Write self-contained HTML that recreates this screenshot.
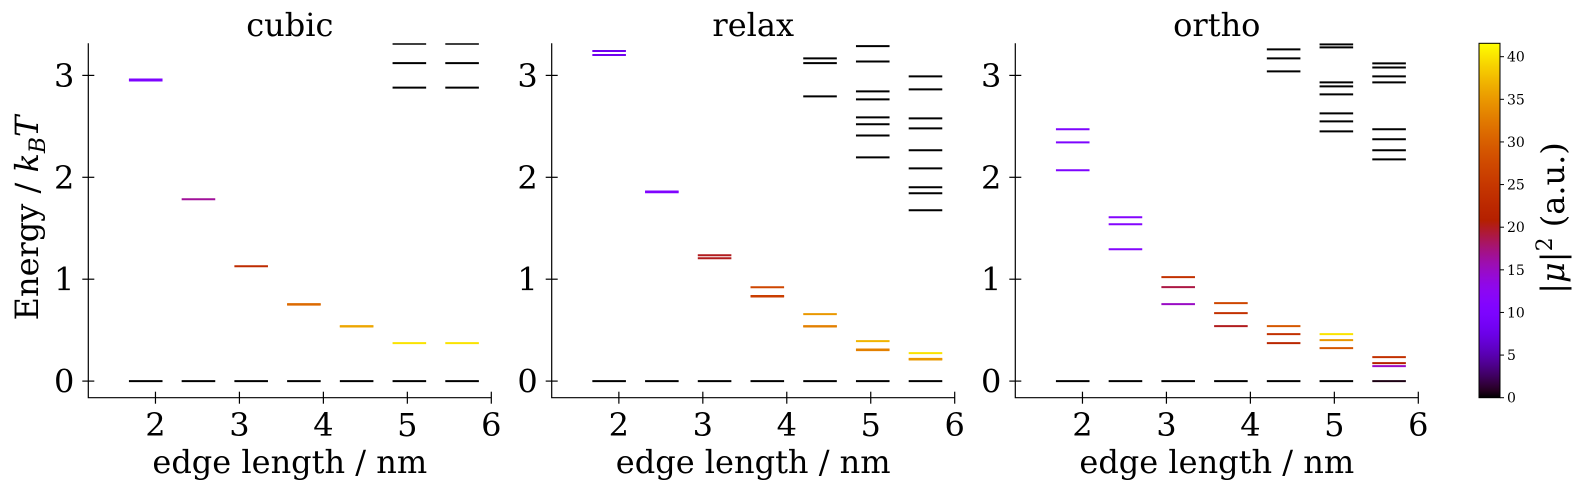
<!DOCTYPE html>
<html><head><meta charset="utf-8"><style>
html,body{margin:0;padding:0;background:#fff;}
svg{display:block;font-family:"DejaVu Serif","Liberation Serif",serif;}
</style></head><body>
<svg id="fig" width="1584" height="490" viewBox="0 0 1584 490" xmlns="http://www.w3.org/2000/svg">
<defs><linearGradient id="cbgrad" x1="0" y1="1" x2="0" y2="0"></linearGradient></defs>
<text x="0" y="0" transform="translate(38,218) rotate(-90)" text-anchor="middle" font-size="32">Energy / <tspan font-style="italic">k</tspan><tspan font-style="italic" font-size="22" dy="7">B</tspan><tspan font-style="italic" dy="-7">T</tspan></text>
<text x="0" y="0" transform="translate(1564,218) rotate(-90)" text-anchor="middle" font-size="32">|<tspan font-style="italic">μ</tspan>|<tspan font-size="22" dy="-12">2</tspan><tspan dy="12"> (a.u.)</tspan></text>
</svg>
<script>
const sizes = [1.884, 2.512, 3.14, 3.768, 4.396, 5.024, 5.652];
const xTicks = [2, 3, 4, 5, 6];
const yTicks = [0, 1, 2, 3];
const cbTicks = [0, 5, 10, 15, 20, 25, 30, 35, 40];
const panelTitles = ["cubic", "relax", "ortho"];
const cubicEnergies = [[0,2.95,2.96],[0,1.784],[0,1.127],[0,0.75,0.755],[0,0.536,0.54],[0,0.372,2.88,3.12,3.31],[0,0.372,2.88,3.12,3.31]];
const cubicIntens = [[0,10,10],[0,16.5],[0,23],[0,31,31],[0,36,36],[0,40,0,0,0],[0,40,0,0,0]];
const relaxEnergies = [[0,3.24,3.20],[0,1.853,1.86],[0,1.235,1.206],[0,0.921,0.83,0.835],[0,0.657,0.536,0.54,3.167,3.12,2.794],[0,0.392,0.304,0.31,3.287,3.137,2.843,2.765,2.588,2.52,2.41,2.196],[0,0.275,0.212,0.218,2.99,2.863,2.578,2.48,2.265,2.088,1.902,1.843,1.676]];
const relaxIntens = [[0,8,8],[0,10.5,10.5],[0,20,20],[0,27,26,26],[0,35,33,33,0,0,0],[0,37,33,33,0,0,0,0,0,0,0,0],[0,40,35,35,0,0,0,0,0,0,0,0,0]];
const orthoEnergies = [[0,2.471,2.343,2.069],[0,1.608,1.539,1.294],[0,1.02,0.922,0.755],[0,0.765,0.667,0.539],[0,0.539,0.461,0.372,3.255,3.167,3.04],[0,0.461,0.402,0.324,3.304,3.275,2.931,2.892,2.814,2.627,2.549,2.451],[0,0.235,0.176,0.147,3.118,3.078,2.99,2.931,2.471,2.373,2.265,2.176]];
const orthoIntens = [[0,10,10,10],[0,11,11,11],[0,24,19,15],[0,27,24,20],[0,29,24,22,0,0,0],[0,40,35,29,0,0,0,0,0,0,0,0],[0.5,24,21,15,0,0,0,0,0,0,0,0]];

const NS = "http://www.w3.org/2000/svg";
const svg = document.getElementById("fig");
const VMAX = 41.57;
function cmap(v){
  let t = Math.max(0, Math.min(1, v / VMAX));
  const r = Math.sqrt(t), g = t*t*t, b = Math.max(0, Math.sin(2*Math.PI*t));
  const h = c => Math.round(Math.min(1,c)*255);
  return `rgb(${h(r)},${h(g)},${h(b)})`;
}
function mk(tag, attrs, parent){
  const e = document.createElementNS(NS, tag);
  for (const k in attrs) e.setAttribute(k, attrs[k]);
  (parent || svg).appendChild(e);
  return e;
}
const XMIN = 1.2, XMAX = 6.0, YMIN = -0.163, YMAX = 3.315;
const TOP = 43.3, BOT = 397.7, W = 403;
const lefts = [88.3, 551.7, 1015.3];
const panelsE = [cubicEnergies, relaxEnergies, orthoEnergies];
const panelsI = [cubicIntens, relaxIntens, orthoIntens];

panelsE.forEach((E, p) => {
  const L = lefts[p];
  const xs = v => L + (v - XMIN) / (XMAX - XMIN) * W;
  const ys = v => BOT - (v - YMIN) / (YMAX - YMIN) * (BOT - TOP);
  const g = mk("g", {});
  
  
  const clipId = "clip" + p;
  const cp = mk("clipPath", {id: clipId}, g);
  mk("rect", {x: L, y: TOP, width: W, height: BOT - TOP}, cp);
  const lines = mk("g", {"clip-path": `url(#${clipId})`}, g);
  E.forEach((lev, i) => {
    lev.forEach((e, j) => {
      const l = mk("line", {x1: xs(sizes[i] - 0.2), x2: xs(sizes[i] + 0.2), y1: ys(e), y2: ys(e), stroke: cmap(panelsI[p][i][j]), "stroke-width": 2}, lines);
      
      
    });
  });
  const ax = mk("path", {d: `M${L},${TOP} V${BOT} H${L+W}`, stroke: "#000", "stroke-width": 1.2, fill: "none"}, g);
  
  
  xTicks.forEach(t => {
    const x = xs(t);
    mk("line", {x1: x, x2: x, y1: BOT - 6, y2: BOT + 6, stroke: "#000", "stroke-width": 1.2}, g);
    const tx = mk("text", {x: x, y: 436, "text-anchor": "middle", "font-size": 32}, g);
    tx.textContent = t;
    
    
  });
  yTicks.forEach(t => {
    const y = ys(t);
    mk("line", {x1: L - 6, x2: L + 6, y1: y, y2: y, stroke: "#000", "stroke-width": 1.2}, g);
    const tx = mk("text", {x: L - 14, y: y + 11.5, "text-anchor": "end", "font-size": 32}, g);
    tx.textContent = t;
    
    
  });
  const xl = mk("text", {x: L + W/2, y: 473, "text-anchor": "middle", "font-size": 32}, g);
  xl.textContent = "edge length / nm";
  
  
  const tt = mk("text", {x: L + W/2, y: 36, "text-anchor": "middle", "font-size": 32}, g);
  tt.textContent = panelTitles[p];
  
  
});

// colorbar
const grad = document.getElementById("cbgrad");
for (let k = 0; k <= 50; k++) {
  mk("stop", {offset: (k/50), "stop-color": cmap(k/50*VMAX)}, grad);
}
const CBX = 1479, CBW = 21;
const cb = mk("rect", {x: CBX, y: TOP, width: CBW, height: BOT - TOP, fill: "url(#cbgrad)", stroke: "#000", "stroke-width": 1});


const cy = v => BOT - v / VMAX * (BOT - TOP);
cbTicks.forEach(t => {
  const y = cy(t);
  mk("line", {x1: CBX + CBW, x2: CBX + CBW + 4, y1: y, y2: y, stroke: "#000", "stroke-width": 1});
  const tx = mk("text", {x: CBX + CBW + 7, y: y + 5, "font-size": 14});
  tx.textContent = t;
  
  
});
</script>
</body></html>
